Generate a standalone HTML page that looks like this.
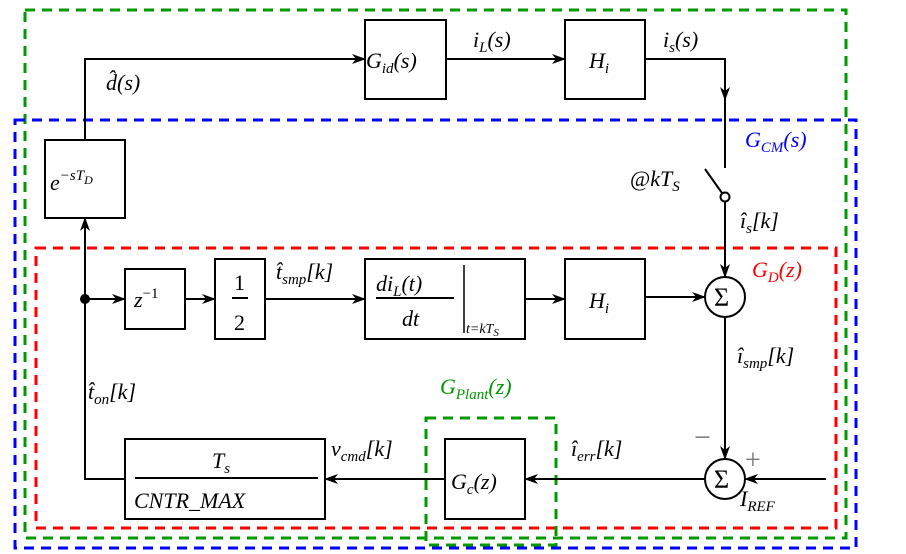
<!DOCTYPE html>
<html><head><meta charset="utf-8"><style>
html,body{margin:0;padding:0;background:#fff;}
svg{display:block;}
text{font-family:"Liberation Serif","DejaVu Serif","Times New Roman",serif;font-style:italic;fill:#000;}
.r{font-style:normal;}
</style></head><body>
<svg width="906" height="554" viewBox="0 0 906 554" xmlns="http://www.w3.org/2000/svg" font-size="22">
<defs>
<marker id="a" markerWidth="14" markerHeight="10" refX="13" refY="5" orient="auto" markerUnits="userSpaceOnUse">
<path d="M0,0 L14,5 L0,10 L4,5 Z" fill="#000"/></marker>
</defs>
<g fill="none" stroke-width="3" stroke-dasharray="10,7">
<rect x="25" y="10" width="821" height="528" stroke="#009900"/>
<rect x="15" y="120" width="841" height="428" stroke="#0000ff"/>
<rect x="36" y="248" width="800" height="280" stroke="#ff0000"/>
<rect x="426" y="418" width="130" height="127" stroke="#009900"/>
</g>
<g fill="#fff" stroke="#000" stroke-width="2">
<rect x="365" y="20" width="81" height="79"/>
<rect x="565" y="20" width="80" height="79"/>
<rect x="45" y="140" width="80" height="78"/>
<rect x="125" y="269" width="60" height="60"/>
<rect x="215" y="259" width="50" height="80"/>
<rect x="365" y="259" width="160" height="80"/>
<rect x="565" y="259" width="80" height="80"/>
<rect x="445" y="439" width="80" height="80"/>
<rect x="125" y="439" width="200" height="80"/>
<circle cx="725" cy="297" r="20"/>
<circle cx="725" cy="479" r="20"/>
</g>
<g fill="none" stroke="#000" stroke-width="2">
<path d="M85,140 V59 H365" marker-end="url(#a)"/>
<path d="M446,59 H565" marker-end="url(#a)"/>
<path d="M645,59 H725 V100" marker-end="url(#a)"/>
<path d="M725,100 V168"/>
<path d="M705,169 L722,193"/>
<circle cx="725" cy="197" r="4.5"/>
<path d="M725,202 V277" marker-end="url(#a)"/>
<path d="M85,299 H125" marker-end="url(#a)"/>
<path d="M185,299 H215" marker-end="url(#a)"/>
<path d="M265,299 H365" marker-end="url(#a)"/>
<path d="M525,299 H565" marker-end="url(#a)"/>
<path d="M645,297 H705" marker-end="url(#a)"/>
<path d="M725,317 V459" marker-end="url(#a)"/>
<path d="M826,479 H745" marker-end="url(#a)"/>
<path d="M705,479 H525" marker-end="url(#a)"/>
<path d="M445,479 H325" marker-end="url(#a)"/>
<path d="M125,479 H85 V218" marker-end="url(#a)"/>
<path d="M232,298 H248"/>
<path d="M376,298 H454"/>
<path d="M464,265 V333" stroke-width="1.5"/>
<path d="M135,478 H318"/>
</g>
<circle cx="85" cy="299" r="5" fill="#000"/>
<text x="714" y="306" class="r" style="font-size:26px">Σ</text>
<text x="714" y="488" class="r" style="font-size:26px">Σ</text>
<text x="366" y="68">G<tspan font-size="15" dy="5">id</tspan><tspan dy="-5">(s)</tspan></text>
<text x="473" y="47">i<tspan font-size="15" dy="5">L</tspan><tspan dy="-5">(s)</tspan></text>
<text x="589" y="68">H<tspan font-size="15" dy="5">i</tspan></text>
<text x="663" y="47">i<tspan font-size="15" dy="5">s</tspan><tspan dy="-5">(s)</tspan></text>
<text x="106" y="90">d̂(s)</text>
<text x="50" y="190">e<tspan font-size="15" dy="-10">−sT</tspan><tspan font-size="12" dy="4">D</tspan></text>
<text x="745" y="147" style="fill:#0000ff">G<tspan font-size="15" dy="5">CM</tspan><tspan dy="-5">(s)</tspan></text>
<text x="630" y="186" class="r">@<tspan font-style="italic">kT</tspan><tspan font-style="italic" font-size="15" dy="5">S</tspan></text>
<text x="740" y="228">î<tspan font-size="15" dy="5">s</tspan><tspan dy="-5">[k]</tspan></text>
<text x="752" y="277" style="fill:#ff0000">G<tspan font-size="15" dy="5">D</tspan><tspan dy="-5">(z)</tspan></text>
<text x="134" y="307">z<tspan font-size="15" dy="-9" class="r">−1</tspan></text>
<text x="234" y="290" class="r">1</text>
<text x="234" y="330" class="r">2</text>
<text x="276" y="279">t̂<tspan font-size="15" dy="5">smp</tspan><tspan dy="-5">[k]</tspan></text>
<text x="376" y="291">di<tspan font-size="15" dy="5">L</tspan><tspan dy="-5">(t)</tspan></text>
<text x="402" y="326">dt</text>
<text x="466" y="333" style="font-size:14px">t=kT<tspan font-size="11" dy="3">S</tspan></text>
<text x="589" y="308">H<tspan font-size="15" dy="5">i</tspan></text>
<text x="737" y="363">î<tspan font-size="15" dy="5">smp</tspan><tspan dy="-5">[k]</tspan></text>
<text x="88" y="399">t̂<tspan font-size="15" dy="5">on</tspan><tspan dy="-5">[k]</tspan></text>
<text x="440" y="394" style="fill:#009900">G<tspan font-size="15" dy="5">Plant</tspan><tspan dy="-5">(z)</tspan></text>
<text x="694" y="447" class="r" style="fill:#777;font-size:30px">−</text>
<text x="745" y="469" class="r" style="fill:#777;font-size:28px">+</text>
<text x="571" y="456">î<tspan font-size="15" dy="5">err</tspan><tspan dy="-5">[k]</tspan></text>
<text x="331" y="456">v<tspan font-size="15" dy="5">cmd</tspan><tspan dy="-5">[k]</tspan></text>
<text x="451" y="489">G<tspan font-size="15" dy="5">c</tspan><tspan dy="-5">(z)</tspan></text>
<text x="212" y="468">T<tspan font-size="15" dy="5">s</tspan></text>
<text x="134" y="508">CNTR_MAX</text>
<text x="740" y="506">I<tspan font-size="15" dy="5">REF</tspan></text>
</svg>
</body></html>
